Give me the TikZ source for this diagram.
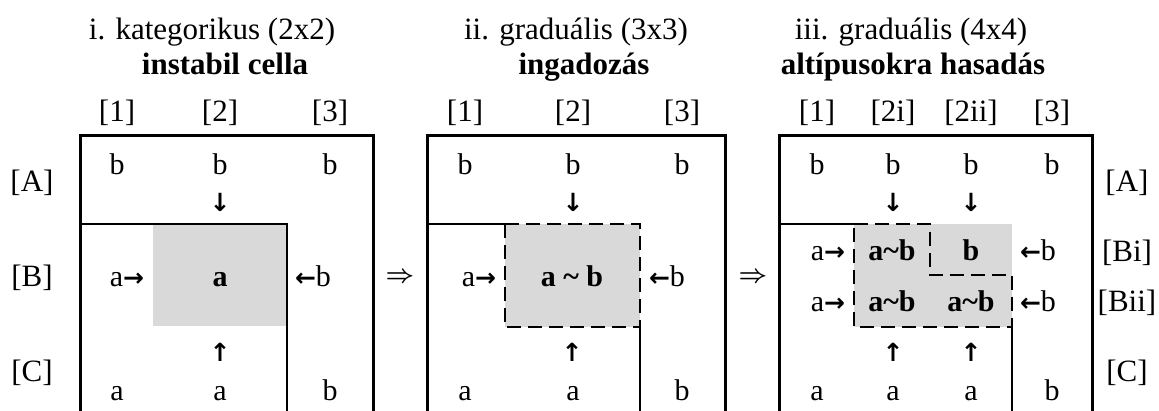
\documentclass[tikz,border=0pt]{standalone}
\usepackage{fontspec}
\setmainfont{Liberation Serif}
\newfontfamily\arrowfont{DejaVu Sans}
\definecolor{cellgray}{HTML}{D9D9D9}
\newcommand{\ra}{{\arrowfont\bfseries\fontsize{25}{30}\selectfont →}}
\newcommand{\la}{{\arrowfont\bfseries\fontsize{25}{30}\selectfont ←}}
\tikzset{
  lbl/.style={font=\fontsize{31}{36}\selectfont, inner sep=0pt},
  ttl/.style={font=\fontsize{31}{36}\selectfont, inner sep=0pt, anchor=base},
  bttl/.style={font=\fontsize{31}{36}\selectfont\bfseries, inner sep=0pt, anchor=base},
  cell/.style={font=\fontsize{30}{34}\selectfont, inner sep=0pt, anchor=base},
  bcell/.style={font=\fontsize{30}{34}\selectfont\bfseries, inner sep=0pt, anchor=base},
  arr/.style={font=\arrowfont\bfseries\fontsize{25}{30}\selectfont, inner sep=0pt},
  impl/.style={font=\fontsize{25}{28}\selectfont\boldmath, inner sep=0pt},
  outerline/.style={line width=3pt, line join=miter},
  innerline/.style={line width=2pt},
  dashline/.style={line width=2.5pt, dash pattern=on 14pt off 7pt},
}
\begin{document}
\begin{tikzpicture}[x=1pt,y=-1pt]
\useasboundingbox (0,0) rectangle (1159,411);
% ---------- gray fills ----------
\fill[cellgray] (153,224) rectangle (287,326);
\fill[cellgray] (505,224) rectangle (640,327);
\fill[cellgray] (854,224) rectangle (1012,327);
% ---------- panel 1 lines ----------
\draw[outerline] (80,413) -- (80,136) -- (373,136) -- (373,413);
\draw[innerline] (80,224) -- (287,224) -- (287,413);
% ---------- panel 2 lines ----------
\draw[outerline] (427,413) -- (427,136) -- (725,136) -- (725,413);
\draw[innerline] (427,224) -- (505,224);
\draw[dashline] (505,224) rectangle (640,327);
\draw[innerline] (640,327) -- (640,413);
% ---------- panel 3 lines ----------
\draw[outerline] (779,413) -- (779,136) -- (1092,136) -- (1092,413);
\draw[innerline] (779,224) -- (854,224);
\draw[dashline] (854,224) -- (930,224) -- (930,275) -- (1012,275) -- (1012,327) -- (854,327) -- cycle;
\draw[innerline] (1012,327) -- (1012,413);
% ---------- titles ----------
\node[ttl] (t1a) at (212,39.5) {i. kategorikus (2x2)};
\node[bttl] (t1b) at (225,75) {instabil cella};
\node[ttl] (t2a) at (576,39.5) {ii. graduális (3x3)};
\node[bttl] (t2b) at (584,75) {ingadozás};
\node[ttl] (t3a) at (911,39.5) {iii. graduális (4x4)};
\node[bttl] (t3b) at (913,75) {altípusokra hasadás};
% ---------- column headers ----------
\node[lbl] (h11) at (117,113) {[1]};
\node[lbl] (h12) at (220,113) {[2]};
\node[lbl] (h13) at (330,113) {[3]};
\node[lbl] (h21) at (465,113) {[1]};
\node[lbl] (h22) at (573,113) {[2]};
\node[lbl] (h23) at (682,113) {[3]};
\node[lbl] (h31) at (817,113) {[1]};
\node[lbl] (h32) at (893,113) {[2i]};
\node[lbl] (h33) at (971,113) {[2ii]};
\node[lbl] (h34) at (1052,113) {[3]};
% ---------- row labels ----------
\node[lbl] (rA) at (32,183) {[A]};
\node[lbl] (rB) at (32,278) {[B]};
\node[lbl] (rC) at (32,373) {[C]};
\node[lbl] (sA) at (1127,183) {[A]};
\node[lbl] (sBi) at (1127,253) {[Bi]};
\node[lbl] (sBii) at (1127,303) {[Bii]};
\node[lbl] (sC) at (1127,373) {[C]};
% ---------- implication arrows ----------
\node[impl] (i1) at (400,278) {$\Rightarrow$};
\node[impl] (i2) at (753,278) {$\Rightarrow$};
% ---------- panel 1 cells ----------
\node[cell] (p1a1) at (117,175) {b};
\node[cell] (p1a2) at (220,175) {b};
\node[cell] (p1a3) at (330,175) {b};
\node[arr] (p1d) at (220,202) {↓};
\node[cell] (p1b1) at (127,287) {a\ra};
\node[bcell] (p1b2) at (220,287) {a};
\node[cell] (p1b3) at (313,287) {\la b};
\node[arr] (p1u) at (220,352) {↑};
\node[cell] (p1c1) at (117,400) {a};
\node[cell] (p1c2) at (220,400) {a};
\node[cell] (p1c3) at (330,400) {b};
% ---------- panel 2 cells ----------
\node[cell] (p2a1) at (465,175) {b};
\node[cell] (p2a2) at (573,175) {b};
\node[cell] (p2a3) at (682,175) {b};
\node[arr] (p2d) at (573,202) {↓};
\node[cell] (p2b1) at (479,287) {a\ra};
\node[bcell] (p2b2) at (572,287) {a \textasciitilde{} b};
\node[cell] (p2b3) at (667,287) {\la b};
\node[arr] (p2u) at (572,352) {↑};
\node[cell] (p2c1) at (465,400) {a};
\node[cell] (p2c2) at (573,400) {a};
\node[cell] (p2c3) at (682,400) {b};
% ---------- panel 3 cells ----------
\node[cell] (p3a1) at (817,175) {b};
\node[cell] (p3a2) at (893,175) {b};
\node[cell] (p3a3) at (971,175) {b};
\node[cell] (p3a4) at (1052,175) {b};
\node[arr] (p3d1) at (893,202) {↓};
\node[arr] (p3d2) at (971,202) {↓};
\node[cell] (p3i1) at (828,261) {a\ra};
\node[bcell] (p3i2) at (892,261) {a\textasciitilde b};
\node[bcell] (p3i3) at (971,261) {b};
\node[cell] (p3i4) at (1038,261) {\la b};
\node[cell] (p3j1) at (828,312) {a\ra};
\node[bcell] (p3j2) at (892,312) {a\textasciitilde b};
\node[bcell] (p3j3) at (971,312) {a\textasciitilde b};
\node[cell] (p3j4) at (1038,312) {\la b};
\node[arr] (p3u1) at (893,352) {↑};
\node[arr] (p3u2) at (971,352) {↑};
\node[cell] (p3c1) at (817,400) {a};
\node[cell] (p3c2) at (893,400) {a};
\node[cell] (p3c3) at (971,400) {a};
\node[cell] (p3c4) at (1052,400) {b};
\end{tikzpicture}
\end{document}
